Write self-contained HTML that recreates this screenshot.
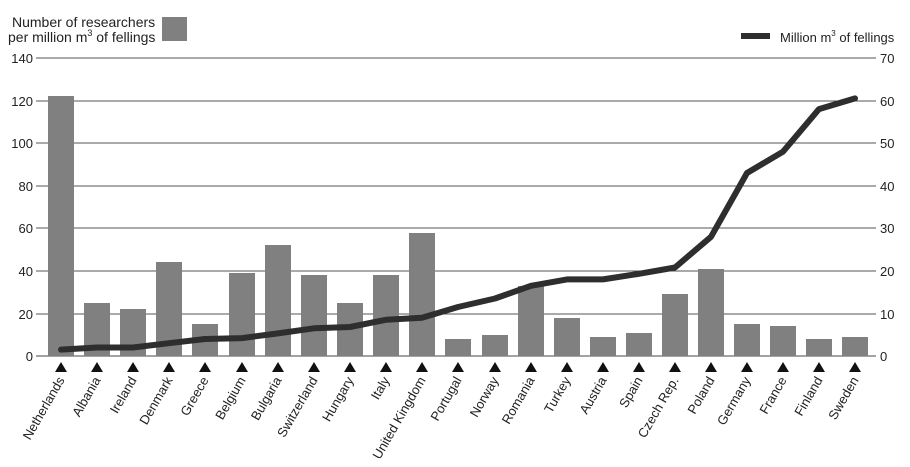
<!DOCTYPE html>
<html><head><style>body{margin:0;background:#fff}svg{display:block}text{font-family:"Liberation Sans",sans-serif;fill:#222}</style></head><body>
<svg width="910" height="467" viewBox="0 0 910 467" xmlns="http://www.w3.org/2000/svg">
<g stroke="#555" stroke-width="1">
<line x1="36" y1="58" x2="876" y2="58"/><line x1="36" y1="101" x2="876" y2="101"/><line x1="36" y1="143" x2="876" y2="143"/><line x1="36" y1="186" x2="876" y2="186"/><line x1="36" y1="228" x2="876" y2="228"/><line x1="36" y1="271" x2="876" y2="271"/><line x1="36" y1="314" x2="876" y2="314"/><line x1="36" y1="356" x2="876" y2="356" stroke="#444"/>
</g>
<g font-size="13" text-anchor="end">
<text x="33" y="63">140</text><text x="33" y="106">120</text><text x="33" y="148">100</text><text x="33" y="191">80</text><text x="33" y="233">60</text><text x="33" y="276">40</text><text x="33" y="319">20</text><text x="33" y="361">0</text>
</g>
<g font-size="13">
<text x="880" y="63">70</text><text x="880" y="106">60</text><text x="880" y="148">50</text><text x="880" y="191">40</text><text x="880" y="233">30</text><text x="880" y="276">20</text><text x="880" y="319">10</text><text x="880" y="361">0</text>
</g>
<g fill="#808080">
<rect x="48" y="96" width="26" height="260"/><rect x="84" y="303" width="26" height="53"/><rect x="120" y="309" width="26" height="47"/><rect x="156" y="262" width="26" height="94"/><rect x="192" y="324" width="26" height="32"/><rect x="229" y="273" width="26" height="83"/><rect x="265" y="245" width="26" height="111"/><rect x="301" y="275" width="26" height="81"/><rect x="337" y="303" width="26" height="53"/><rect x="373" y="275" width="26" height="81"/><rect x="409" y="233" width="26" height="123"/><rect x="445" y="339" width="26" height="17"/><rect x="482" y="335" width="26" height="21"/><rect x="518" y="286" width="26" height="70"/><rect x="554" y="318" width="26" height="38"/><rect x="590" y="337" width="26" height="19"/><rect x="626" y="333" width="26" height="23"/><rect x="662" y="294" width="26" height="62"/><rect x="698" y="269" width="26" height="87"/><rect x="734" y="324" width="26" height="32"/><rect x="770" y="326" width="26" height="30"/><rect x="806" y="339" width="26" height="17"/><rect x="842" y="337" width="26" height="19"/>
</g>
<polyline fill="none" stroke="#2e2e2e" stroke-width="6" stroke-linejoin="round" stroke-linecap="round" points="61,349.6 97,347.5 133,347.5 169,343.2 205,339 242,338.1 278,333.4 314,328.3 350,327 386,319.8 422,317.7 458,307 495,298.5 531,285.8 567,279.4 603,279.4 639,273.8 675,267.5 711,236.8 747,173 783,151.7 819,109.1 855,98.4"/>
<g fill="#111">
<polygon points="55,372 67,372 61,362"/><polygon points="91,372 103,372 97,362"/><polygon points="127,372 139,372 133,362"/><polygon points="163,372 175,372 169,362"/><polygon points="199,372 211,372 205,362"/><polygon points="236,372 248,372 242,362"/><polygon points="272,372 284,372 278,362"/><polygon points="308,372 320,372 314,362"/><polygon points="344,372 356,372 350,362"/><polygon points="380,372 392,372 386,362"/><polygon points="416,372 428,372 422,362"/><polygon points="452,372 464,372 458,362"/><polygon points="489,372 501,372 495,362"/><polygon points="525,372 537,372 531,362"/><polygon points="561,372 573,372 567,362"/><polygon points="597,372 609,372 603,362"/><polygon points="633,372 645,372 639,362"/><polygon points="669,372 681,372 675,362"/><polygon points="705,372 717,372 711,362"/><polygon points="741,372 753,372 747,362"/><polygon points="777,372 789,372 783,362"/><polygon points="813,372 825,372 819,362"/><polygon points="849,372 861,372 855,362"/>
</g>
<g font-size="13" text-anchor="end">
<text transform="translate(65,380) rotate(-60)">Netherlands</text>
<text transform="translate(101,380) rotate(-60)">Albania</text>
<text transform="translate(137,380) rotate(-60)">Ireland</text>
<text transform="translate(173,380) rotate(-60)">Denmark</text>
<text transform="translate(209,380) rotate(-60)">Greece</text>
<text transform="translate(246,380) rotate(-60)">Belgium</text>
<text transform="translate(282,380) rotate(-60)">Bulgaria</text>
<text transform="translate(318,380) rotate(-60)">Switzerland</text>
<text transform="translate(354,380) rotate(-60)">Hungary</text>
<text transform="translate(390,380) rotate(-60)">Italy</text>
<text transform="translate(426,380) rotate(-60)">United Kingdom</text>
<text transform="translate(462,380) rotate(-60)">Portugal</text>
<text transform="translate(499,380) rotate(-60)">Norway</text>
<text transform="translate(535,380) rotate(-60)">Romania</text>
<text transform="translate(571,380) rotate(-60)">Turkey</text>
<text transform="translate(607,380) rotate(-60)">Austria</text>
<text transform="translate(643,380) rotate(-60)">Spain</text>
<text transform="translate(679,380) rotate(-60)">Czech Rep.</text>
<text transform="translate(715,380) rotate(-60)">Poland</text>
<text transform="translate(751,380) rotate(-60)">Germany</text>
<text transform="translate(787,380) rotate(-60)">France</text>
<text transform="translate(823,380) rotate(-60)">Finland</text>
<text transform="translate(859,380) rotate(-60)">Sweden</text>
</g>
<text x="12" y="27" font-size="14">Number of researchers</text>
<text x="8" y="42" font-size="14">per million m<tspan font-size="9" dy="-6">3</tspan><tspan dy="6"> of fellings</tspan></text>
<rect x="162" y="17" width="25" height="24" fill="#808080"/>
<rect x="741" y="33" width="29" height="6" fill="#2e2e2e"/>
<text x="780" y="42" font-size="13">Million m<tspan font-size="8" dy="-6">3</tspan><tspan dy="6"> of fellings</tspan></text>
</svg>
</body></html>
